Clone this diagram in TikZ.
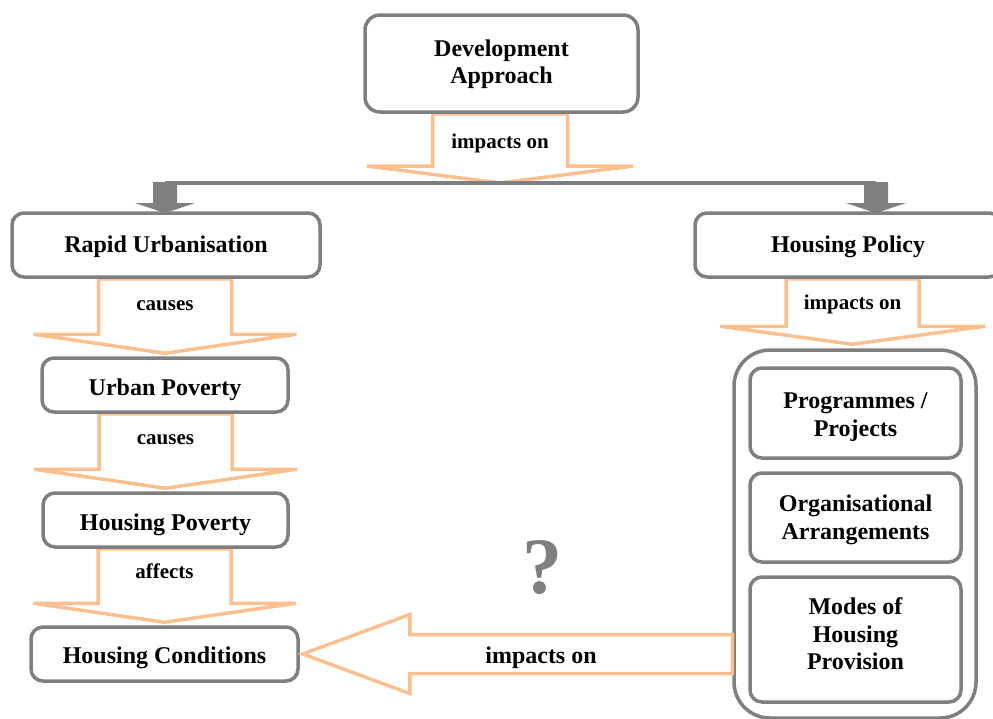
\documentclass[tikz,border=0pt]{standalone}
\usepackage{fontspec}
\setmainfont{Liberation Serif}
\usetikzlibrary{calc}
\pgfdeclarelayer{back}
\pgfsetlayers{back,main}
\definecolor{boxgray}{HTML}{7F7F7F}
\definecolor{peach}{HTML}{FAC090}

\tikzset{
  box/.style={draw=boxgray, line width=3.5pt, rounded corners=12pt, fill=white,
    inner sep=0pt, font=\bfseries\fontsize{24}{27.5}\selectfont},
  flow/.style={draw=peach, line width=3.5pt, fill=white, line join=miter},
  flowlabel/.style={inner sep=0pt, anchor=base, font=\bfseries\fontsize{21}{24}\selectfont},
  link/.style={draw=boxgray, line width=4pt},
}

% centred lines of box text, moved vertically by #1 without changing the box size
\newcommand{\boxtext}[2]{\raisebox{#1}[\height][\depth]{\begin{tabular}{@{}c@{}}#2\end{tabular}}}

% hollow block arrow pointing down: #1 upper node, #2 tip coordinate,
% #3 stem half width, #4 wing half width, #5 head length, #6 label, #7 label name,
% #8 label baseline below the stem top
\newcommand{\blockdown}[8]{%
  \draw[flow] ($(#2 |- #1.south)+(-#3,0)$) -- ($(#2 |- #1.south)+(#3,0)$)
    -- ($(#2)+(#3,-#5)$) -- ($(#2)+(#4,-#5)$) -- (#2)
    -- ($(#2)+(-#4,-#5)$) -- ($(#2)+(-#3,-#5)$) -- cycle;
  \node[flowlabel] (#7) at ($(#2 |- #1.south)+(0,#8)$) {#6};
}

\begin{document}
\begin{tikzpicture}[x=1pt,y=-1pt]
\useasboundingbox (0,0) rectangle (993,718);
\clip (0,0) rectangle (993,718);

% boxes
\node[box, rounded corners=15pt, minimum width=273pt, minimum height=97pt] (dev) at (501.5,63.5) {\boxtext{-1pt}{Development\\Approach}};
\node[box, minimum width=308pt, minimum height=64pt] (ru) at (166,245) {\boxtext{-2pt}{Rapid Urbanisation}};
\node[box, minimum width=306pt, minimum height=64pt] (hp) at (848,245) {\boxtext{-2pt}{Housing Policy}};
\node[box, minimum width=246pt, minimum height=54pt] (up) at (165,385) {\boxtext{-5pt}{Urban Poverty}};
\node[box, minimum width=245pt, minimum height=54pt] (hpov) at (165.5,520) {\boxtext{-5pt}{Housing Poverty}};
\node[box, minimum width=267pt, minimum height=54pt] (hc) at (164.5,654) {\boxtext{-4pt}{Housing Conditions}};

% policy instruments group
\node[box, rounded corners=36pt, minimum width=242pt, minimum height=368pt] (group) at (855,534) {};
\node[box, minimum width=211pt, minimum height=90pt] (pp) at (855.5,413) {\boxtext{-4pt}{Programmes /\\Projects}};
\node[box, minimum width=211pt, minimum height=89pt] (oa) at (855.5,517.5) {\boxtext{-2.5pt}{Organisational\\Arrangements}};
\node[box, minimum width=211pt, minimum height=125pt] (mh) at (855.5,639.5) {\boxtext{3pt}{Modes of\\Housing\\Provision}};

% question mark
\node[font=\bfseries\fontsize{80}{80}\selectfont, text=boxgray, anchor=base, inner sep=0pt] (q) at (542,593) {?};

% arrow tips and branching points
\coordinate (split) at (500,183);
\coordinate (barL) at (165,183);
\coordinate (barR) at (876,183);
\coordinate (t1) at ($(up.north)+(0,-3)$);
\coordinate (t2) at ($(hpov.north)+(0,-3)$);
\coordinate (t3) at ($(hc.north)+(0,-3)$);
\coordinate (t5) at ($(group.north)+(-2.5,-4)$);
\coordinate (t4) at ($(hc.east)+(3,0)$);

\begin{pgfonlayer}{back}
  \fill[white] (0,0) rectangle (993,718);
  \blockdown{dev}{split}{67.5}{133}{17}{impacts on}{l0}{35}
  \blockdown{ru}{t1}{66.5}{131.5}{19}{causes}{l1}{32}
  \blockdown{up}{t2}{66.5}{131.5}{19}{causes}{l2}{31}
  \blockdown{hpov}{t3}{66.5}{131.5}{19}{affects}{l3}{30}
  \blockdown{hp}{t5}{66.5}{132.5}{18}{impacts on}{l5}{31}

  % gray branching connector
  \draw[link] (barL) -- (barR);
  \fill[boxgray] (barL) ++(-12,-1) -- ++(24,0) -- ++(0,21) -- ++(18,0)
    -- ++(-30,10) -- ++(-30,-10) -- ++(18,0) -- cycle;
  \fill[boxgray] (barR) ++(-12,-1) -- ++(24,0) -- ++(0,21) -- ++(18,0)
    -- ++(-30,10) -- ++(-30,-10) -- ++(18,0) -- cycle;
\end{pgfonlayer}

% left-pointing block arrow from the group to housing conditions
\draw[flow] (t4) -- ($(t4)+(107,-39.5)$) -- ($(t4)+(107,-19.5)$)
  -- ($(group.west |- t4)+(0,-19.5)$) -- ($(group.west |- t4)+(0,19.5)$)
  -- ($(t4)+(107,19.5)$) -- ($(t4)+(107,39.5)$) -- cycle;
\node[inner sep=0pt, anchor=base, font=\bfseries\fontsize{24}{27.5}\selectfont] (l4) at (541,663) {impacts on};
\end{tikzpicture}
\end{document}
